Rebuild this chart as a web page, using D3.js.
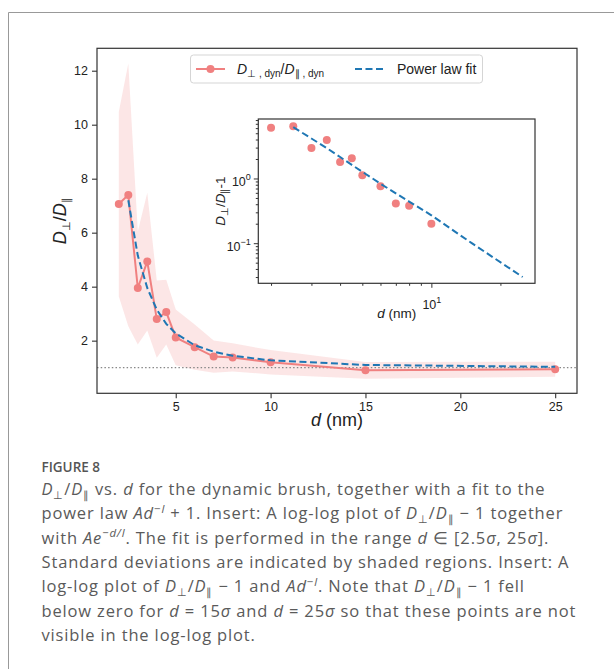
<!DOCTYPE html>
<html><head><meta charset="utf-8">
<script src="https://cdn.jsdelivr.net/npm/d3@7/dist/d3.min.js"></script>
<style>
html,body{margin:0;padding:0;background:#fff;}
svg{display:block;}
</style></head>
<body>
<svg id="chart" width="614" height="669"></svg>
<script>
// ---- data ----
const dVals   = [2, 2.5, 3, 3.5, 4, 4.5, 5, 6, 7, 8, 10, 15, 25];
const ratio   = [7.06, 7.40, 3.95, 4.93, 2.80, 3.06, 2.12, 1.76, 1.41, 1.38, 1.20, 0.90, 0.94];
const stdDev  = [3.42, 4.87, 2.09, 2.55, 1.43, 1.20, 1.03, 0.84, 0.60, 0.52, 0.45, 0.31, 0.28];
const fitD    = [2.5, 3, 3.5, 4, 4.5, 5, 6, 7, 8, 10, 15, 25];
const fitVals = [7.20, 5.15, 3.95, 3.15, 2.62, 2.27, 1.83, 1.59, 1.44, 1.27, 1.10, 1.03];
const xTicks  = [5, 10, 15, 20, 25];
const yTicks  = [2, 4, 6, 8, 10, 12];
const insetXMajor = [10];
const insetYMajor = [0.1, 1];
const insetXMinor = [2, 3, 4, 5, 6, 7, 8, 9, 20];
const insetYMinor = [0.03, 0.04, 0.05, 0.06, 0.07, 0.08, 0.09, 0.2, 0.3, 0.4, 0.5, 0.6, 0.7, 0.8, 0.9, 2, 3, 4, 5, 6, 7, 8];
const refLine = 1;

const RED = "#f08080", BLUE = "#1f77b4", FONT = "'Liberation Sans', Arial, sans-serif";
const svg = d3.select("#chart");

// outer frame
svg.append("path").attr("d", "M8.5,669 L8.5,12.5 L614,12.5").attr("fill", "none").attr("stroke", "#999").attr("stroke-width", 1);

// ---- main axes ----
const M = {l: 97, r: 577, t: 48.3, b: 393.3};
const x = d3.scaleLinear([0.85, 26.15], [M.l, M.r]);
const y = d3.scaleLinear([0.05, 12.83], [M.b, M.t]);
const g = svg.append("g");

const rows = dVals.map((d, i) => ({d, v: ratio[i], s: stdDev[i]}));
g.append("path").datum(rows)
  .attr("d", d3.area().x(r => x(r.d)).y0(r => y(r.v - r.s)).y1(r => y(r.v + r.s)))
  .attr("fill", RED).attr("fill-opacity", 0.2);

g.append("line").attr("x1", M.l).attr("x2", M.r).attr("y1", y(refLine)).attr("y2", y(refLine))
  .attr("stroke", "#888").attr("stroke-width", 1.3).attr("stroke-dasharray", "1.5,2.2");

g.append("path").datum(rows)
  .attr("d", d3.line().x(r => x(r.d)).y(r => y(r.v)))
  .attr("fill", "none").attr("stroke", RED).attr("stroke-width", 2);
g.selectAll("circle.m").data(rows).join("circle").attr("class", "m")
  .attr("cx", r => x(r.d)).attr("cy", r => y(r.v)).attr("r", 4).attr("fill", RED);

const fitRows = fitD.map((d, i) => ({d, v: fitVals[i]}));
g.append("path").datum(fitRows)
  .attr("d", d3.line().x(r => x(r.d)).y(r => y(r.v)))
  .attr("fill", "none").attr("stroke", BLUE).attr("stroke-width", 2).attr("stroke-dasharray", "7,3.5");

g.append("rect").attr("x", M.l).attr("y", M.t).attr("width", M.r - M.l).attr("height", M.b - M.t)
  .attr("fill", "none").attr("stroke", "#333").attr("stroke-width", 1.2);

const ax = g.append("g").attr("transform", `translate(0,${M.b})`)
  .call(d3.axisBottom(x).tickValues(xTicks).tickSize(5).tickPadding(4));
const ay = g.append("g").attr("transform", `translate(${M.l},0)`)
  .call(d3.axisLeft(y).tickValues(yTicks).tickSize(5).tickPadding(4));
[ax, ay].forEach(a => {
  a.select(".domain").remove();
  a.selectAll(".tick line").attr("stroke", "#333").attr("stroke-width", 1.1);
  a.selectAll(".tick text").attr("fill", "#222").style("font-family", FONT).style("font-size", "12.5px");
});

// axis labels
const xl = svg.append("text").attr("x", (M.l + M.r) / 2).attr("y", 426).attr("text-anchor", "middle")
  .style("font-family", FONT).style("font-size", "18px").attr("fill", "#222");
xl.append("tspan").attr("font-style", "italic").text("d");
xl.append("tspan").text(" (nm)");

function dRatio(sel, subSize, shift) {
  sel.append("tspan").attr("font-style", "italic").text("D");
  sel.append("tspan").style("font-size", subSize + "px").attr("dy", shift).text("\u22A5");
  sel.append("tspan").attr("dy", -shift).text("/");
  sel.append("tspan").attr("font-style", "italic").text("D");
  sel.append("tspan").style("font-size", subSize + "px").attr("dy", shift).text("\u2225");
  return sel;
}
const yl = svg.append("text").attr("transform", `translate(66,${(M.t + M.b) / 2}) rotate(-90)`)
  .attr("text-anchor", "middle").style("font-family", FONT).style("font-size", "18px").attr("fill", "#222");
dRatio(yl, 11, 4);

// legend
const lg = svg.append("g");
lg.append("rect").attr("x", 190.5).attr("y", 55).attr("width", 292).attr("height", 28).attr("rx", 3)
  .attr("fill", "#fff").attr("stroke", "#d5d5d5").attr("stroke-width", 1);
const ly = 69;
lg.append("line").attr("x1", 196).attr("x2", 225).attr("y1", ly).attr("y2", ly).attr("stroke", RED).attr("stroke-width", 2);
lg.append("circle").attr("cx", 210.5).attr("cy", ly).attr("r", 4).attr("fill", RED);
const lt = lg.append("text").attr("x", 237).attr("y", ly + 5).style("font-family", FONT).style("font-size", "14px").attr("fill", "#222");
lt.append("tspan").attr("font-style", "italic").text("D");
lt.append("tspan").style("font-size", "10px").attr("dy", 3).text("\u22A5 , dyn");
lt.append("tspan").attr("dy", -3).text("/");
lt.append("tspan").attr("font-style", "italic").text("D");
lt.append("tspan").style("font-size", "10px").attr("dy", 3).text("\u2225 , dyn");
lg.append("line").attr("x1", 355).attr("x2", 385).attr("y1", ly).attr("y2", ly).attr("stroke", BLUE).attr("stroke-width", 2).attr("stroke-dasharray", "7,3.5");
lg.append("text").attr("x", 397).attr("y", ly + 5).style("font-family", FONT).style("font-size", "14px").attr("fill", "#222").text("Power law fit");

// ---- inset ----
const I = {l: 258.3, r: 535, t: 119, b: 283.3};
const xi = d3.scaleLog([1.76, 28.3], [I.l, I.r]);
const yi = d3.scaleLog([0.024, 8.3], [I.b, I.t]);
const gi = svg.append("g");
gi.append("rect").attr("x", I.l).attr("y", I.t).attr("width", I.r - I.l).attr("height", I.b - I.t)
  .attr("fill", "#fff").attr("stroke", "#333").attr("stroke-width", 1.2);

const insetPts = rows.filter(r => r.d <= 10 && r.v > 1);
gi.selectAll("circle").data(insetPts).join("circle")
  .attr("cx", r => xi(r.d)).attr("cy", r => yi(r.v - 1)).attr("r", 4).attr("fill", RED);
gi.append("path").datum(fitRows)
  .attr("d", d3.line().x(r => xi(r.d)).y(r => yi(r.v - 1)))
  .attr("fill", "none").attr("stroke", BLUE).attr("stroke-width", 2).attr("stroke-dasharray", "7,3.5");

function styleAxis(a) {
  a.select(".domain").remove();
  a.selectAll(".tick line").attr("stroke", "#333").attr("stroke-width", 1);
  a.selectAll(".tick text").attr("fill", "#222").style("font-family", FONT).style("font-size", "12.5px");
}
function pow10(sel) {
  sel.each(function(v) {
    const t = d3.select(this); const e = Math.round(Math.log10(v));
    t.text(null);
    t.append("tspan").text("10");
    t.append("tspan").attr("dy", -6).style("font-size", "9px").text(e < 0 ? "\u2212" + (-e) : String(e));
  });
}
const axb = gi.append("g").attr("transform", `translate(0,${I.b})`)
  .call(d3.axisBottom(xi).tickValues(insetXMajor).tickSize(4.5).tickPadding(12).tickFormat(d3.format("d")));
styleAxis(axb); axb.selectAll(".tick text").call(pow10);
const axbm = gi.append("g").attr("transform", `translate(0,${I.b})`)
  .call(d3.axisBottom(xi).tickValues(insetXMinor).tickSize(2.5).tickFormat(""));
styleAxis(axbm);
const ayl = gi.append("g").attr("transform", `translate(${I.l},0)`)
  .call(d3.axisLeft(yi).tickValues(insetYMajor).tickSize(4.5).tickPadding(3).tickFormat(d3.format("d")));
styleAxis(ayl); ayl.selectAll(".tick text").attr("dy", "0.6em").call(pow10);
const aylm = gi.append("g").attr("transform", `translate(${I.l},0)`)
  .call(d3.axisLeft(yi).tickValues(insetYMinor).tickSize(2.5).tickFormat(""));
styleAxis(aylm);

const ixl = svg.append("text").attr("x", (I.l + I.r) / 2).attr("y", 318).attr("text-anchor", "middle")
  .style("font-family", FONT).style("font-size", "13.5px").attr("fill", "#222");
ixl.append("tspan").attr("font-style", "italic").text("d");
ixl.append("tspan").text(" (nm)");
const iyl = svg.append("text").attr("transform", `translate(225,${(I.t + I.b) / 2}) rotate(-90)`)
  .attr("text-anchor", "middle").style("font-family", FONT).style("font-size", "13.5px").attr("fill", "#222");
dRatio(iyl, 9.5, 3);
iyl.append("tspan").attr("dy", -3).text("-1");

// ---- caption ----
const CF = "'Open Sans', Lato, sans-serif";
svg.append("text").attr("x", 41.5).attr("y", 471.5).style("font-family", CF).style("font-size", "13.5px")
  .style("font-weight", 600).attr("fill", "#555").text("FIGURE 8");

const DR = [["D","i"],["\u22A5","sub"],["/","n"],["D","i"],["\u2225","sub"]];
const capLines = [
  [...DR, [" vs. ","n"], ["d","i"], [" for the dynamic brush, together with a fit to the","n"]],
  [["power law ","n"], ["Ad","i"], ["\u2212","sup"], ["l","supi"], [" + 1. Insert: A log-log plot of ","n"], ...DR, [" \u2212 1 together","n"]],
  [["with ","n"], ["Ae","i"], ["\u2212d/l","supi"], [". The fit is performed in the range ","n"], ["d","i"], [" \u2208 [2.5","n"], ["\u03C3","i"], [", 25","n"], ["\u03C3","i"], ["].","n"]],
  [["Standard deviations are indicated by shaded regions. Insert: A","n"]],
  [["log-log plot of ","n"], ...DR, [" \u2212 1 and ","n"], ["Ad","i"], ["\u2212","sup"], ["l","supi"], [". Note that ","n"], ...DR, [" \u2212 1 fell","n"]],
  [["below zero for ","n"], ["d","i"], [" = 15","n"], ["\u03C3","i"], [" and ","n"], ["d","i"], [" = 25","n"], ["\u03C3","i"], [" so that these points are not","n"]],
  [["visible in the log-log plot.","n"]]
];
const capTop = 495, capStep = 24.3;
capLines.forEach((segs, li) => {
  const t = svg.append("text").attr("x", 41.5).attr("y", capTop + li * capStep)
    .style("font-family", CF).style("font-size", "16.5px").style("letter-spacing", "0.85px").attr("fill", "#5a5a5a");
  let shift = 0;
  segs.forEach(([s, k]) => {
    let target = 0, size = null, ital = false;
    if (k === "i") ital = true;
    if (k === "sub") { target = 4; size = "11px"; }
    if (k === "sup") { target = -6.5; size = "11.5px"; }
    if (k === "supi") { target = -6.5; size = "11.5px"; ital = true; }
    const sp = t.append("tspan").text(s);
    if (target !== shift) { sp.attr("dy", target - shift); shift = target; }
    if (size) sp.style("font-size", size);
    if (ital) sp.attr("font-style", "italic");
  });
});
</script>
</body></html>
